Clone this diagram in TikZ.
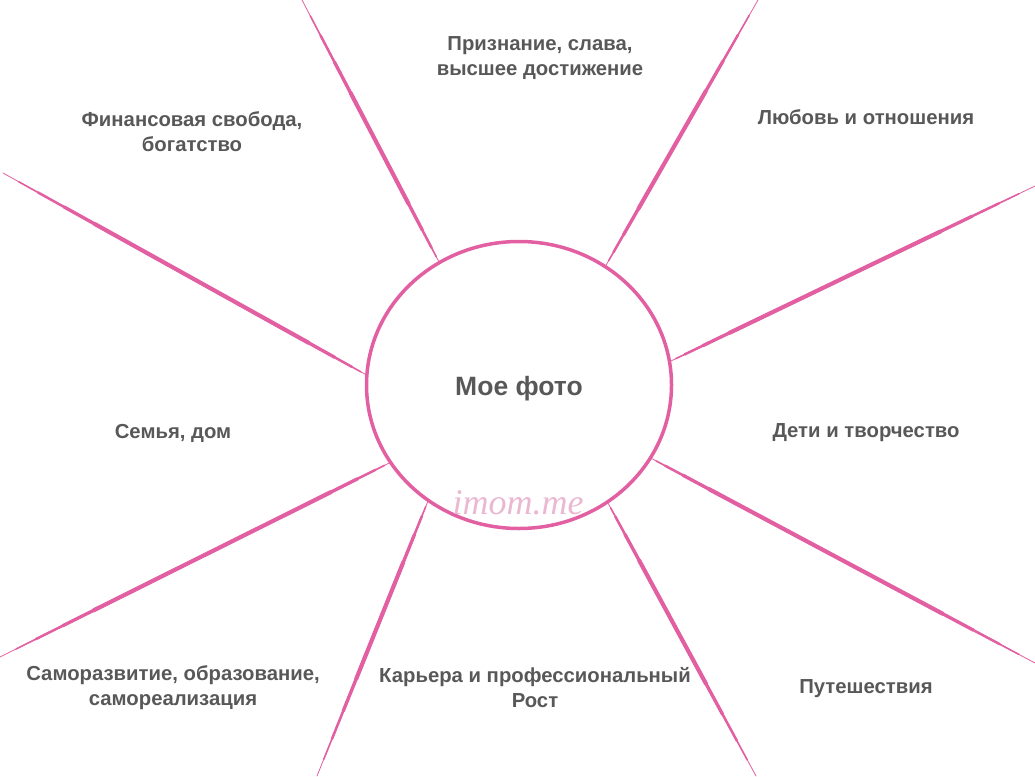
\documentclass[tikz,border=0pt]{standalone}
\usepackage{fontspec}
\setmainfont{Liberation Sans}
\newfontfamily\markfont{Liberation Serif}
\usepackage{tikz}
\usetikzlibrary{positioning, calc}
\usetikzlibrary{shapes.geometric}
\definecolor{rayPink}{RGB}{226,96,162}
\definecolor{labelGray}{RGB}{88,88,88}
\definecolor{markPink}{RGB}{234,184,208}

\begin{document}
\begin{tikzpicture}[x=1pt,y=-1pt]
 	\tikzstyle{photo-node}=[ellipse,draw=rayPink,line width=3.5pt,inner sep=0pt,minimum width=305pt,minimum height=287pt]
 	\tikzstyle{ray}=[draw=rayPink,line width=0.8pt,line cap=round]
 	\tikzstyle{annot}=[text=labelGray,font=\bfseries\fontsize{20.3}{25}\selectfont,align=center,inner sep=0pt]
 	\useasboundingbox (0,0) rectangle (1035,776);
 	% photo
 	\node[photo-node] 	(photo)	at (519,385)	{};
 	\node[text=labelGray,font=\bfseries\fontsize{26.5}{30}\selectfont] (photo-label) at (519,389) {Мое фото};
 	\node[text=markPink,font=\markfont\itshape\fontsize{36}{38}\selectfont] (mark) at (518,503) {imom.me};
	
 	% ray ends
 	\coordinate (o1) at (302,0);
 	\coordinate (o2) at (758,0);
 	\coordinate (o3) at (3,173);
 	\coordinate (o4) at (1035,186);
 	\coordinate (o5) at (0,657);
 	\coordinate (o6) at (1035,663);
 	\coordinate (o7) at (317,776);
 	\coordinate (o8) at (756,776);
 	% rays, thicker towards the middle
 	\foreach \a/\o in {123.3/o1, 54.8/o2, 176.7/o3, 9.6/o4, 211.4/o5, 331.2/o6, 232/o7, 307.3/o8}{
 		\draw[ray] (photo.\a) -- (\o);
 		\foreach \w/\s/\t in {1.6/18/5, 2.5/40/15, 3.3/70/35, 4.1/105/65}
 			\draw[ray, line width=\w pt, shorten >=\s pt, shorten <=\t pt] (photo.\a) -- (\o);
 	}
	
 	% labels
 	\node[annot] (fame)	at (540,58)	{Признание, слава,\\высшее достижение};
 	\node[annot] (money)	at (192,132)	{Финансовая свобода,\\богатство};
 	\node[annot] (love)	at (866,117)	{Любовь и отношения};
 	\node[annot] (family)	at (173,433)	{Семья, дом};
 	\node[annot] (kids)	at (866,433)	{Дети и творчество};
 	\node[annot] (growth)	at (173,688)	{Саморазвитие, образование,\\самореализация};
 	\node[annot] (career)	at (535,688)	{Карьера и профессиональный\\Рост};
 	\node[annot] (travel)	at (866,689)	{Путешествия};
\end{tikzpicture}
\end{document}
